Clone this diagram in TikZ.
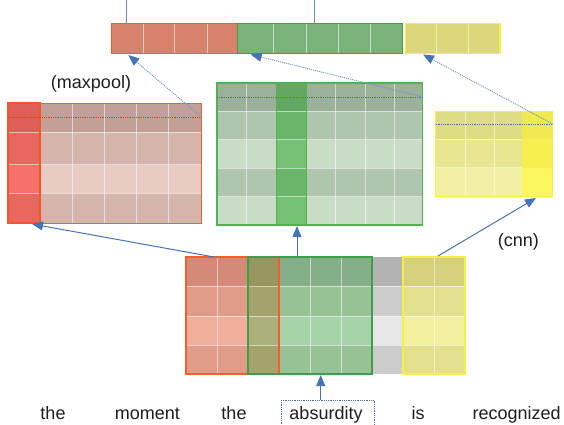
\documentclass[tikz,border=0pt]{standalone}
\usepackage{fontspec}
\setmainfont{Liberation Sans}
\usetikzlibrary{arrows.meta,calc}
\definecolor{r1}{HTML}{D38A78}\definecolor{r2}{HTML}{E09B89}\definecolor{r3}{HTML}{F0AE9B}
\definecolor{o1}{HTML}{98955F}\definecolor{o2}{HTML}{A4A36C}\definecolor{o3}{HTML}{ABAF7A}
\definecolor{g1}{HTML}{85AF87}\definecolor{g2}{HTML}{96C295}\definecolor{g3}{HTML}{A6D2A7}
\definecolor{k1}{HTML}{B3B3B3}\definecolor{k2}{HTML}{CCCCCC}\definecolor{k3}{HTML}{E6E6E6}
\definecolor{y1}{HTML}{D5D07E}\definecolor{y2}{HTML}{E2DF8E}\definecolor{y3}{HTML}{F2F09E}
\definecolor{lr1}{HTML}{C2A097}\definecolor{lr2}{HTML}{D3B5AC}\definecolor{lr3}{HTML}{E8CBC2}
\definecolor{lh1}{HTML}{DE5F58}\definecolor{lh2}{HTML}{E9675F}\definecolor{lh3}{HTML}{F5716A}
\definecolor{mg1}{HTML}{9CB19A}\definecolor{mg2}{HTML}{B0C5AE}\definecolor{mg3}{HTML}{C8DCC6}
\definecolor{mh1}{HTML}{62A862}\definecolor{mh2}{HTML}{69B569}\definecolor{mh3}{HTML}{75C275}
\definecolor{ry1}{HTML}{DFDC86}\definecolor{ry2}{HTML}{E8E691}\definecolor{ry3}{HTML}{F2F0A3}
\definecolor{rh1}{HTML}{F0EA4E}\definecolor{rh2}{HTML}{F5EF50}\definecolor{rh3}{HTML}{FAF65E}
\definecolor{redB}{HTML}{F0602E}\definecolor{greenB}{HTML}{3E9E4A}\definecolor{yelB}{HTML}{F6F040}
\definecolor{lgreenB}{HTML}{50B450}
\definecolor{topR}{HTML}{D8826E}\definecolor{topG}{HTML}{7BB17B}\definecolor{topY}{HTML}{DAD87A}
\definecolor{arrC}{HTML}{4673B8}\definecolor{dotC}{HTML}{4A6FB0}\definecolor{txt}{HTML}{1E1E1E}
\begin{document}
\begin{tikzpicture}[x=1pt,y=-1pt,
  box/.style={draw, line width=1.1pt, inner sep=0pt, outer sep=0pt, anchor=north west},
  grid/.style={white, opacity=0.55, line width=0.8pt},
  arr/.style={draw=arrC, line width=1pt, -{Triangle[length=11pt,width=9pt]}},
  darr/.style={draw=dotC!75!white, line width=1pt, densely dotted, -{Triangle[length=11pt,width=9pt,color=arrC,fill=arrC]}},
  dline/.style={draw=dotC, line width=0.8pt, densely dotted},
  word/.style={font=\fontsize{18}{20}\selectfont, text=txt, anchor=base, inner sep=0pt}]
\useasboundingbox (0,0) rectangle (564,424);
% ---------------- bottom matrix
\foreach \ya/\yb/\s in {257/286/1, 286/316/2, 316/345/3, 345/374/2} {
  \fill[fill=r\s] (186,\ya) rectangle (248,\yb);
  \fill[fill=o\s] (248,\ya) rectangle (279,\yb);
  \fill[fill=g\s] (279,\ya) rectangle (372,\yb);
  \fill[fill=k\s] (372,\ya) rectangle (403,\yb);
  \fill[fill=y\s] (403,\ya) rectangle (465,\yb);
}
\foreach \x in {217,248,279,310,341,372,403,434} \draw[grid] (\x,257) -- (\x,374);
\foreach \y in {286,316,345} \draw[grid] (186,\y) -- (465,\y);
\node[box, draw=redB, minimum width=93pt, minimum height=117pt] (bR) at (186,257) {};
\node[box, draw=greenB, minimum width=124pt, minimum height=117pt] (bG) at (248,257) {};
\node[box, draw=yelB, line width=1.5pt, minimum width=62pt, minimum height=117pt] (bY) at (403,257) {};
% ---------------- left matrix
\foreach \ya/\yb/\s in {103/132/1, 132/164.5/2, 164.5/193/3, 193/223/2} {
  \fill[fill=lr\s] (40,\ya) rectangle (201.5,\yb);
  \fill[fill=lh\s] (8,\ya) rectangle (40,\yb);
}
\foreach \x in {72,104.5,136.5,168.5} \draw[grid] (\x,103) -- (\x,223);
\foreach \y in {132,164.5,193} \draw[grid] (8,\y) -- (201.5,\y);
\node[box, draw=redB, line width=1pt, minimum width=193.5pt, minimum height=120pt] (L) at (8,103) {};
\node[box, draw=redB!90!red, line width=1.5pt, minimum width=32pt, minimum height=120pt] (Lh) at (8,103) {};
\coordinate (Ld) at (201.5,117);
\draw[dline] (8,117) -- (Ld);
% ---------------- middle matrix
\foreach \ya/\yb/\s in {83/111.4/1, 111.4/139.8/2, 139.8/168.2/3, 168.2/196.6/2, 196.6/225/3} {
  \fill[fill=mg\s] (217,\ya) rectangle (422.7,\yb);
  \fill[fill=mh\s] (276.8,\ya) rectangle (306.2,\yb);
}
\foreach \x in {246.4,335.6,365,394.3} \draw[grid] (\x,83) -- (\x,225);
\foreach \y in {111.4,139.8,168.2,196.6} \draw[grid] (217,\y) -- (422.7,\y);
\node[box, draw=lgreenB, minimum width=205.7pt, minimum height=142pt] (M) at (217,83) {};
\node[box, draw=lgreenB, line width=1pt, minimum width=29.4pt, minimum height=142pt] (Mh) at (276.8,83) {};
\coordinate (Md) at (422.7,97);
\draw[dline] (217,97) -- (Md);
% ---------------- right matrix
\foreach \ya/\yb/\s in {111/139.3/1, 139.3/167.7/2, 167.7/196/3} {
  \fill[fill=ry\s] (435.7,\ya) rectangle (522,\yb);
  \fill[fill=rh\s] (522,\ya) rectangle (552.7,\yb);
}
\foreach \x in {465,494.5} \draw[grid] (\x,111) -- (\x,196);
\foreach \y in {139.3,167.7} \draw[grid] (435.7,\y) -- (522,\y);
\node[box, draw=yelB, line width=1pt, minimum width=117pt, minimum height=85pt] (R) at (435.7,111) {};
\coordinate (Rd) at (552.7,124);
\draw[dline] (435.7,124) -- (Rd);
% ---------------- top vector
\fill[topR] (111.7,23.3) rectangle (237.7,53.3);
\fill[topG] (237.7,23.3) rectangle (402.7,53.3);
\fill[topY] (405.3,23.3) rectangle (500,53.3);
\foreach \x in {143,174.7,207.7,273.3,306,338.7,370.3,436,468} \draw[grid] (\x,23.3) -- (\x,53.3);
\node[box, draw=redB, minimum width=126pt, minimum height=30pt] (tR) at (111.7,23.3) {};
\node[box, draw=greenB, minimum width=165pt, minimum height=30pt] (tG) at (237.7,23.3) {};
\node[box, draw=yelB, line width=1.5pt, minimum width=94.7pt, minimum height=30pt] (tY) at (405.3,23.3) {};
\coordinate (v1) at (126.7,0);
\coordinate (v2) at (314.3,0);
\draw[arrC!80!white, line width=1.2pt] (v1) -- (v1 |- tR.north);
\draw[arrC!80!white, line width=1.2pt] (v2) -- (v2 |- tG.north);
% ---------------- words
\node[word] (w1) at (53,419.5) {the};
\node[word] (w2) at (147.3,419.5) {moment};
\node[word] (w3) at (234,419.5) {the};
\node[word] (w4) at (326,419.5) {absurdity};
\node[word] (w5) at (418,419.5) {is};
\node[word] (w6) at (516.7,419.5) {recognized};
\node[draw=dotC, densely dotted, line width=0.8pt, inner sep=0pt, anchor=north west,
      minimum width=93pt, minimum height=34pt] (wbox) at (281,400) {};
\node[word] (mp) at (91,88) {(maxpool)};
\node[word] (cn) at (518.3,246.7) {(cnn)};
% ---------------- arrows
\coordinate (a1s) at (214,257);   \coordinate (a1e) at (32,224);
\coordinate (a2s) at (297,257);   \coordinate (a2e) at (297,226);
\coordinate (a3s) at (438,256);   \coordinate (a3e) at (536,198);
\coordinate (a4s) at (320.7,400); \coordinate (a4e) at (320.7,375);
\draw[arr] (a1s) -- (a1e);
\draw[arr] (a2s) -- (a2e);
\draw[arr] (a3s) -- (a3e);
\draw[arr] (a4s) -- (a4e);
\coordinate (d1e) at (128.3,55);
\coordinate (d2e) at (250.7,54.5);
\coordinate (d3e) at (423,54.5);
\draw[darr] (Ld) -- (d1e);
\draw[darr] (Md) -- (d2e);
\draw[darr] (Rd) -- (d3e);
\end{tikzpicture}
\end{document}
